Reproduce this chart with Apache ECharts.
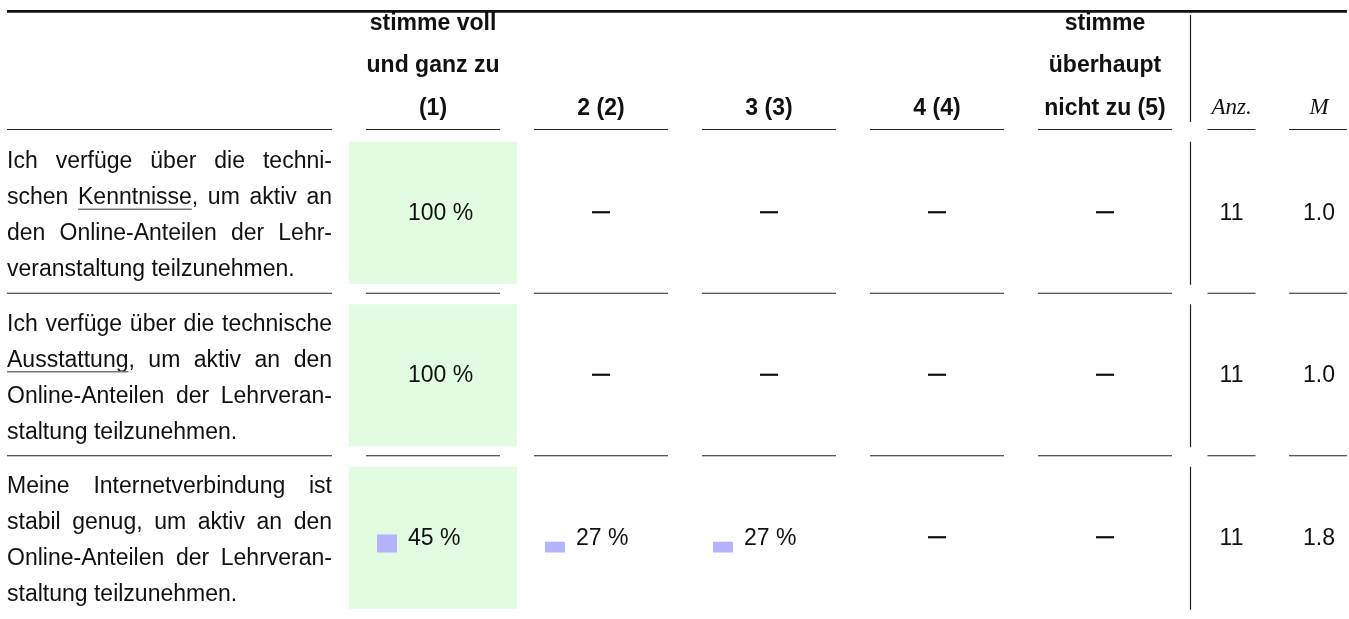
<!DOCTYPE html>
<html>
<head>
<meta charset="utf-8">
<script src="https://cdn.jsdelivr.net/npm/echarts@6.0.0/dist/echarts.min.js"></script>
<style>
html,body{margin:0;padding:0;background:#fff;}
#c{width:1349px;height:619px;}
</style>
</head>
<body>
<div id="c"></div>
<script>
// ---------------- DATA ----------------
const itemLines = [
  ['Ich verfüge über die techni-', 'schen Kenntnisse, um aktiv an', 'den Online-Anteilen der Lehr-', 'veranstaltung teilzunehmen.'],
  ['Ich verfüge über die technische', 'Ausstattung, um aktiv an den', 'Online-Anteilen der Lehrveran-', 'staltung teilzunehmen.'],
  ['Meine Internetverbindung ist', 'stabil genug, um aktiv an den', 'Online-Anteilen der Lehrveran-', 'staltung teilzunehmen.']
];
const underlinedWords = ['Kenntnisse', 'Ausstattung', ''];
const scaleHeaders = [
  ['stimme voll', 'und ganz zu', '(1)'],
  ['2 (2)'],
  ['3 (3)'],
  ['4 (4)'],
  ['stimme', 'überhaupt', 'nicht zu (5)']
];
const statHeaders = ['Anz.', 'M'];
const scaleCategories = ['1', '2', '3', '4', '5'];
const rowCategories = ['Kenntnisse', 'Ausstattung', 'Internetverbindung'];
const pct1 = [100, 100, 45];
const pct2 = [0, 0, 27];
const pct3 = [0, 0, 27];
const pct4 = [0, 0, 0];
const pct5 = [0, 0, 0];
const counts = [11, 11, 11];
const means = [1.0, 1.0, 1.8];

// ---------------- LAYOUT / STYLE ----------------
const pcts = [pct1, pct2, pct3, pct4, pct5];
const TABLE_L = 7, TABLE_R = 1347;
const LABEL_R = 332;
const GRID_L = 349, COL_W = 168;
const ROW_C0 = 214, ROW_H = 165;
const VLINE_X = 1190.5;
const STAT_X = [1231.5, 1319];
const STAT_RULE = [[1207.5, 1255.5], [1289, 1347]];
const HEAD_RULE_Y = 129.5;
const LINE_BASE = [-43, -7, 29, 65];
const FS = 23;
const FONT_BODY = FS + 'px "Liberation Sans", Arial, sans-serif';
const FONT_HEAD = 'bold ' + FS + 'px "Liberation Sans", Arial, sans-serif';
const FONT_STAT = 'italic 23px "Liberation Serif", serif';
const MID = 0.34; // baseline offset for verticalAlign middle (em)
const GREEN = '#E1FCE1', BLUE = '#B3B3FF', INK = '#111', RULE = '#222';

const cnv = document.createElement('canvas');
const ctx = cnv.getContext('2d');
function tw(s, font) { ctx.font = font; return ctx.measureText(s).width; }

function textEl(x, baseY, txt, font, align, fs) {
  return {
    type: 'text', x: x, y: baseY - MID * (fs || FS),
    style: { text: txt, font: font, fill: INK, align: align || 'left', verticalAlign: 'middle' }
  };
}
function lineEl(x1, y1, x2, y2, w, col) {
  return { type: 'line', shape: { x1: x1, y1: y1, x2: x2, y2: y2 }, style: { stroke: col || RULE, lineWidth: w || 1 } };
}

const nRows = rowCategories.length;

// ---------------- SERIES RENDERERS ----------------
function renderLabel(params, api) {
  const r = api.value(1);
  const cy = api.coord([0, r])[1];
  const children = [];
  const lines = itemLines[r];
  const W = LABEL_R - TABLE_L;
  lines.forEach(function (line, li) {
    const base = cy + LINE_BASE[li];
    const words = line.split(' ');
    const widths = words.map(function (w) { return tw(w, FONT_BODY); });
    const sum = widths.reduce(function (a, b) { return a + b; }, 0);
    const last = li === lines.length - 1;
    const gap = last ? tw(' ', FONT_BODY) : (W - sum) / (words.length - 1);
    let x = TABLE_L;
    words.forEach(function (w, wi) {
      children.push(textEl(x, base, w, FONT_BODY, 'left'));
      const core = w.replace(/[.,]/g, '');
      if (underlinedWords[r] && core === underlinedWords[r]) {
        const uw = tw(core, FONT_BODY);
        children.push(lineEl(x, base + 3.5, x + uw, base + 3.5, 1.3, '#777'));
      }
      x += widths[wi] + gap;
    });
  });
  if (r < nRows - 1) children.push(lineEl(TABLE_L, cy + 80.5, LABEL_R, cy + 80.5, 1));
  return { type: 'group', children: children };
}

function renderCell(params, api) {
  const c = api.value(0), r = api.value(1), p = api.value(2);
  const pt = api.coord([c, r]);
  const bw = api.size([1, 0])[0];
  const left = pt[0] - bw / 2, cy = pt[1];
  let rowMax = 0;
  pcts.forEach(function (a) { rowMax = Math.max(rowMax, a[r]); });
  const children = [];
  if (p > 0 && p === rowMax) {
    children.push({ type: 'rect', shape: { x: left, y: cy - 71, width: bw, height: 142 }, style: { fill: GREEN } });
  }
  if (p > 0) {
    children.push(textEl(left + 59, cy + 8.5, p + ' %', FONT_BODY, 'left'));
  } else {
    children.push(lineEl(pt[0] - 9, cy - 0.5, pt[0] + 9, cy - 0.5, 2.2, INK));
  }
  if (r < nRows - 1) children.push(lineEl(left + 17, cy + 80.5, left + bw - 17, cy + 80.5, 1));
  return { type: 'group', children: children };
}

function renderStats(params, api) {
  const r = api.value(1);
  const cy = api.coord([0, r])[1];
  const children = [];
  children.push(textEl(STAT_X[0], cy + 8.5, String(counts[r]), FONT_BODY, 'center'));
  children.push(textEl(STAT_X[1], cy + 8.5, means[r].toFixed(1), FONT_BODY, 'center'));
  children.push(lineEl(VLINE_X, cy - 71, VLINE_X, cy + 72, 1.2));
  if (r < nRows - 1) {
    STAT_RULE.forEach(function (s) { children.push(lineEl(s[0], cy + 80.5, s[1], cy + 80.5, 1)); });
  }
  return { type: 'group', children: children };
}

function renderBar(params, api) {
  const c = api.value(0), v = api.value(1);
  const b = api.coord([c, 0]);
  const t = api.coord([c, v]);
  const bw = api.size([1, 0])[0];
  const x = b[0] - bw / 2 + 28;
  return { type: 'rect', shape: { x: x, y: t[1], width: 20, height: b[1] - t[1] }, style: { fill: BLUE } };
}

// ---------------- GRIDS / AXES ----------------
const grids = [{ left: GRID_L, top: ROW_C0 - ROW_H / 2, width: COL_W * 5, height: ROW_H * nRows }];
const xAxes = [{ type: 'category', gridIndex: 0, data: scaleCategories, show: false, boundaryGap: true }];
const yAxes = [{ type: 'category', gridIndex: 0, data: rowCategories, show: false, inverse: true, boundaryGap: true }];
const series = [];

const cellData = [];
for (let r = 0; r < nRows; r++) for (let c = 0; c < 5; c++) cellData.push([c, r, pcts[c][r]]);
series.push({ type: 'custom', xAxisIndex: 0, yAxisIndex: 0, renderItem: renderCell, data: cellData, silent: true, clip: false, z: 2 });
series.push({ type: 'custom', xAxisIndex: 0, yAxisIndex: 0, renderItem: renderLabel, data: rowCategories.map(function (_, r) { return [0, r]; }), silent: true, clip: false, z: 3 });
series.push({ type: 'custom', xAxisIndex: 0, yAxisIndex: 0, renderItem: renderStats, data: rowCategories.map(function (_, r) { return [0, r]; }), silent: true, clip: false, z: 3 });

// one small grid per row for the mini bars (value axis 0..100)
for (let r = 0; r < nRows; r++) {
  const cy = ROW_C0 + ROW_H * r;
  grids.push({ left: GRID_L, top: cy + 8.5 - 40, width: COL_W * 5, height: 40 });
  xAxes.push({ type: 'category', gridIndex: r + 1, data: scaleCategories, show: false, boundaryGap: true });
  yAxes.push({ type: 'value', gridIndex: r + 1, min: 0, max: 100, show: false });
  const bd = [];
  for (let c = 0; c < 5; c++) { const v = pcts[c][r]; if (v > 0 && v < 100) bd.push([c, v]); }
  series.push({ type: 'custom', xAxisIndex: r + 1, yAxisIndex: r + 1, renderItem: renderBar, data: bd, silent: true, clip: false, z: 4 });
}

// ---------------- HEADER GRAPHICS ----------------
const graphic = [];
graphic.push({ type: 'rect', shape: { x: TABLE_L, y: 10, width: TABLE_R - TABLE_L, height: 2.8 }, style: { fill: '#111' } });
const HEAD_BASE = [31.5, 73.5, 116];
scaleHeaders.forEach(function (lines, i) {
  const cx = GRID_L + COL_W * (i + 0.5);
  const off = 3 - lines.length;
  lines.forEach(function (t, li) {
    graphic.push(textEl(cx, HEAD_BASE[li + off], t, FONT_HEAD, 'center'));
  });
  graphic.push(lineEl(GRID_L + COL_W * i + 17, HEAD_RULE_Y, GRID_L + COL_W * (i + 1) - 17, HEAD_RULE_Y, 1));
});
graphic.push(lineEl(TABLE_L, HEAD_RULE_Y, LABEL_R, HEAD_RULE_Y, 1));
statHeaders.forEach(function (t, i) {
  graphic.push(textEl(STAT_X[i], HEAD_BASE[2], t, FONT_STAT, 'center', 23));
  graphic.push(lineEl(STAT_RULE[i][0], HEAD_RULE_Y, STAT_RULE[i][1], HEAD_RULE_Y, 1));
});
graphic.push(lineEl(VLINE_X, 15, VLINE_X, 122, 1.2));

const chart = echarts.init(document.getElementById('c'), null, { renderer: 'canvas' });
chart.setOption({
  animation: false,
  backgroundColor: '#fff',
  grid: grids,
  xAxis: xAxes,
  yAxis: yAxes,
  series: series,
  graphic: graphic
});
</script>
</body>
</html>
